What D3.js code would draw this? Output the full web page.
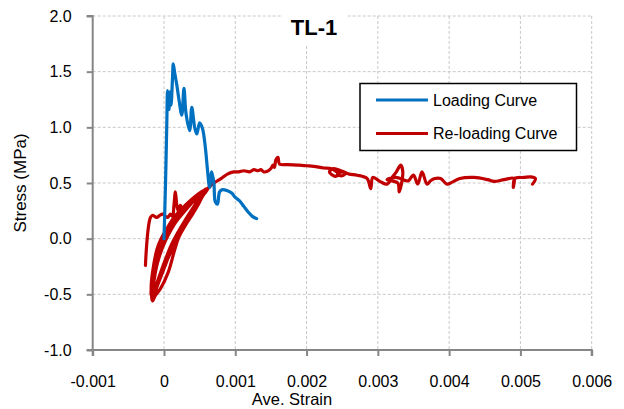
<!DOCTYPE html>
<html>
<head>
<meta charset="utf-8">
<script src="https://cdn.jsdelivr.net/npm/d3@7/dist/d3.min.js"></script>
<style>
  html, body { margin: 0; padding: 0; background: #fff; }
  svg { display: block; }
</style>
</head>
<body>
<div id="chart"></div>
<script>
// Axis ticks
const xTicks = [-0.001, 0, 0.001, 0.002, 0.003, 0.004, 0.005, 0.006];
const xTickLabels = ["-0.001", "0", "0.001", "0.002", "0.003", "0.004", "0.005", "0.006"];
const yTicks = [-1.0, -0.5, 0.0, 0.5, 1.0, 1.5, 2.0];
const yTickLabels = ["-1.0", "-0.5", "0.0", "0.5", "1.0", "1.5", "2.0"];

// Series names
const seriesNames = ["Loading Curve", "Re-loading Curve"];

// Loading curve: [strain, stress MPa]
const loadingCurve = [
  [0.0000, 0.00], [0.00002, 0.45], [0.00004, 1.05], [0.00005, 1.33], [0.00006, 1.25],
  [0.00007, 1.16], [0.00008, 1.30], [0.00009, 1.32], [0.00010, 1.20], [0.00012, 1.45],
  [0.00013, 1.57], [0.00015, 1.49], [0.00018, 1.38], [0.00021, 1.25], [0.00025, 1.11],
  [0.00028, 1.35], [0.00031, 1.12], [0.00036, 0.97], [0.00039, 1.18], [0.00043, 1.00],
  [0.00046, 0.94], [0.00050, 1.04], [0.00054, 0.99], [0.00058, 0.82], [0.00061, 0.62],
  [0.00064, 0.46], [0.00067, 0.60], [0.00070, 0.50], [0.00072, 0.33], [0.00075, 0.31],
  [0.00078, 0.42], [0.00082, 0.44], [0.00089, 0.43], [0.00095, 0.41], [0.00100, 0.37],
  [0.00106, 0.34], [0.00112, 0.29], [0.00118, 0.24], [0.00124, 0.20], [0.00130, 0.18]
];

// Re-loading curve: [strain, stress MPa]
const reloadingCurve = [
  [-0.00026, -0.24], [-0.00025, -0.12], [-0.00023, 0.04], [-0.00021, 0.14], [-0.00019, 0.19],
  [-0.00016, 0.21], [-0.00013, 0.20], [-0.00010, 0.19], [-0.00006, 0.21], [-0.00002, 0.22],
  [0.00002, 0.20], [0.00005, 0.19], [0.00009, 0.22], [0.00012, 0.20], [0.00014, 0.30],
  [0.00016, 0.42], [0.00018, 0.30], [0.00020, 0.25], [0.00023, 0.30], [0.00026, 0.27],
  [0.00030, 0.30], [0.00040, 0.35], [0.00050, 0.40], [0.00060, 0.45],
  // cyclic loops
  [0.00056, 0.40], [0.00046, 0.30], [0.00037, 0.20], [0.00028, 0.10], [0.00020, 0.00],
  [0.00015, -0.10], [0.00006, -0.30], [-0.00005, -0.45], [-0.00013, -0.52], [-0.00016, -0.56],
  [-0.00018, -0.45], [-0.00016, -0.30], [-0.00010, -0.10], [-0.00004, 0.00], [0.00005, 0.10],
  [0.00015, 0.20], [0.00030, 0.30], [0.00048, 0.40], [0.00060, 0.45],
  [0.00052, 0.38], [0.00042, 0.28], [0.00032, 0.18], [0.00022, 0.07], [0.00014, -0.03],
  [0.00007, -0.14], [0.00000, -0.27], [-0.00008, -0.40], [-0.00014, -0.50],
  [-0.00016, -0.48], [-0.00014, -0.30], [-0.00008, -0.12], [-0.00001, 0.00], [0.00008, 0.10],
  [0.00018, 0.20], [0.00032, 0.30], [0.00050, 0.41], [0.00058, 0.44],
  [0.00048, 0.35], [0.00040, 0.27], [0.00030, 0.17], [0.00019, 0.05], [0.00010, -0.06],
  [0.00003, -0.17], [-0.00004, -0.29], [-0.00010, -0.40], [-0.00015, -0.50],
  [-0.00015, -0.45], [-0.00012, -0.30], [-0.00006, -0.15], [0.00002, -0.02], [0.00010, 0.08],
  [0.00020, 0.18], [0.00034, 0.29], [0.00050, 0.40], [0.00062, 0.45],
  [0.00055, 0.39], [0.00045, 0.30], [0.00035, 0.21], [0.00025, 0.10], [0.00016, -0.01],
  [0.00010, -0.10], [0.00003, -0.22], [-0.00005, -0.35], [-0.00012, -0.47], [-0.00017, -0.55],
  [-0.00017, -0.50], [-0.00015, -0.38], [-0.00010, -0.22], [-0.00003, -0.08], [0.00005, 0.04],
  [0.00013, 0.13], [0.00024, 0.22], [0.00038, 0.32], [0.00055, 0.42], [0.00057, 0.43],
  [0.00050, 0.33], [0.00041, 0.23], [0.00031, 0.13], [0.00022, 0.03], [0.00012, -0.09],
  [0.00004, -0.20], [-0.00004, -0.32], [-0.00010, -0.43], [-0.00016, -0.52],
  [-0.00018, -0.50], [-0.00017, -0.40], [-0.00013, -0.25], [-0.00007, -0.12], [0.00000, -0.02],
  [0.00009, 0.08], [0.00019, 0.17], [0.00032, 0.27], [0.00045, 0.36], [0.00063, 0.46],
  // envelope beyond the loops
  [0.00068, 0.49], [0.00075, 0.52], [0.00080, 0.54], [0.00089, 0.58], [0.00098, 0.60],
  [0.00105, 0.60], [0.00112, 0.61], [0.00120, 0.60], [0.00126, 0.62], [0.00132, 0.61],
  [0.00136, 0.62], [0.00140, 0.60], [0.00145, 0.605], [0.00150, 0.63], [0.00153, 0.66],
  [0.00155, 0.64], [0.00157, 0.71], [0.00160, 0.73], [0.00162, 0.67], [0.00173, 0.665],
  [0.00190, 0.66], [0.00200, 0.655], [0.00210, 0.65], [0.00224, 0.635], [0.00234, 0.63],
  [0.00240, 0.61], [0.00245, 0.58], [0.00240, 0.56], [0.00232, 0.60], [0.00238, 0.63],
  [0.00248, 0.61], [0.00255, 0.59], [0.00250, 0.565], [0.00243, 0.575], [0.00250, 0.60],
  [0.00260, 0.58], [0.00271, 0.57], [0.00285, 0.54], [0.00290, 0.45], [0.00293, 0.55],
  [0.00304, 0.51], [0.00313, 0.49], [0.00320, 0.55], [0.00326, 0.60], [0.00332, 0.66],
  [0.00335, 0.60], [0.00330, 0.42], [0.00328, 0.50], [0.00313, 0.53], [0.00325, 0.55],
  [0.00340, 0.52], [0.00343, 0.52], [0.00350, 0.57], [0.00356, 0.49], [0.00362, 0.60],
  [0.00369, 0.49], [0.00374, 0.52], [0.00380, 0.54], [0.00388, 0.54], [0.00397, 0.49],
  [0.00405, 0.51], [0.00415, 0.54], [0.00435, 0.55], [0.00454, 0.53], [0.00463, 0.515],
  [0.00477, 0.53], [0.00491, 0.54], [0.00490, 0.46], [0.00492, 0.54], [0.00505, 0.55],
  [0.00515, 0.555], [0.00521, 0.54], [0.00517, 0.49]
];

const W = 624, H = 409;
const margin = { left: 92.7, top: 16, right: W - 591.7, bottom: H - 350 };
const innerW = W - margin.left - margin.right;
const innerH = H - margin.top - margin.bottom;

const svg = d3.select("#chart").append("svg")
  .attr("width", W).attr("height", H)
  .style("font-family", "'Liberation Sans', Arial, sans-serif");

const x = d3.scaleLinear().domain([-0.001, 0.006]).range([0, innerW]);
const y = d3.scaleLinear().domain([-1, 2]).range([innerH, 0]);

const g = svg.append("g").attr("transform", `translate(${margin.left},${margin.top})`);

// Gridlines
const gridColor = "#c8c8c8";
g.append("g").selectAll("line").data(yTicks.filter(d => d > -1)).join("line")
  .attr("x1", 0).attr("x2", innerW)
  .attr("y1", d => y(d)).attr("y2", d => y(d))
  .attr("stroke", gridColor).attr("stroke-width", 1).attr("stroke-dasharray", "3,2");
g.append("g").selectAll("line").data(xTicks.filter(d => d > -0.001)).join("line")
  .attr("x1", d => x(d)).attr("x2", d => x(d))
  .attr("y1", 0).attr("y2", innerH)
  .attr("stroke", gridColor).attr("stroke-width", 1).attr("stroke-dasharray", "3,2");

// Title with white backing over the grid
g.append("rect").attr("x", 283 - margin.left).attr("y", -6).attr("width", 63).attr("height", 35).attr("fill", "#fff");
svg.append("text").attr("x", 314).attr("y", 35).attr("text-anchor", "middle")
  .attr("font-size", 22).attr("font-weight", "bold").attr("fill", "#000").text("TL-1");

// Axes
const axisColor = "#868686";
const xAxis = g.append("g").attr("transform", `translate(0,${innerH})`)
  .call(d3.axisBottom(x).tickValues(xTicks).tickFormat((d, i) => xTickLabels[i]).tickSize(6).tickPadding(20));
const yAxis = g.append("g")
  .call(d3.axisLeft(y).tickValues(yTicks).tickFormat((d, i) => yTickLabels[i]).tickSize(6).tickPadding(15));
[xAxis, yAxis].forEach(a => {
  a.select(".domain").attr("stroke", axisColor).attr("stroke-width", 2);
  a.selectAll(".tick line").attr("stroke", axisColor).attr("stroke-width", 2);
  a.selectAll(".tick text").attr("fill", "#000").attr("font-size", 16)
    .attr("font-family", "'Liberation Sans', Arial, sans-serif");
});
xAxis.select(".domain").attr("d", `M0,6V0H${innerW}V6`);
yAxis.select(".domain").attr("d", `M-6,0H0V${innerH}H-6`);

// Curves
const line = d3.line().x(d => x(d[0])).y(d => y(d[1])).curve(d3.curveCatmullRom.alpha(0.5));
g.append("path").datum(reloadingCurve).attr("d", line)
  .attr("fill", "none").attr("stroke", "#C00000").attr("stroke-width", 3.2)
  .attr("stroke-linejoin", "round").attr("stroke-linecap", "round");
g.append("path").datum(loadingCurve).attr("d", line)
  .attr("fill", "none").attr("stroke", "#0070C0").attr("stroke-width", 3.2)
  .attr("stroke-linejoin", "round").attr("stroke-linecap", "round");

// Axis titles
svg.append("text").attr("x", 292).attr("y", 405).attr("text-anchor", "middle")
  .attr("font-size", 16.5).attr("fill", "#000").text("Ave. Strain");
svg.append("text").attr("transform", "translate(26,183) rotate(-90)").attr("text-anchor", "middle")
  .attr("font-size", 17).attr("fill", "#000").text("Stress (MPa)");

// Legend
const colors = ["#0070C0", "#C00000"];
const legend = svg.append("g");
legend.append("rect").attr("x", 360).attr("y", 83.5).attr("width", 216.5).attr("height", 67)
  .attr("fill", "#fff").attr("stroke", "#000").attr("stroke-width", 1.5);
seriesNames.forEach((name, i) => {
  const ly = 100 + i * 33.5;
  legend.append("line").attr("x1", 376).attr("x2", 428).attr("y1", ly).attr("y2", ly)
    .attr("stroke", colors[i]).attr("stroke-width", 3);
  legend.append("text").attr("x", 433).attr("y", ly + 5.5).attr("font-size", 16)
    .attr("fill", "#000").text(name);
});
</script>
</body>
</html>
